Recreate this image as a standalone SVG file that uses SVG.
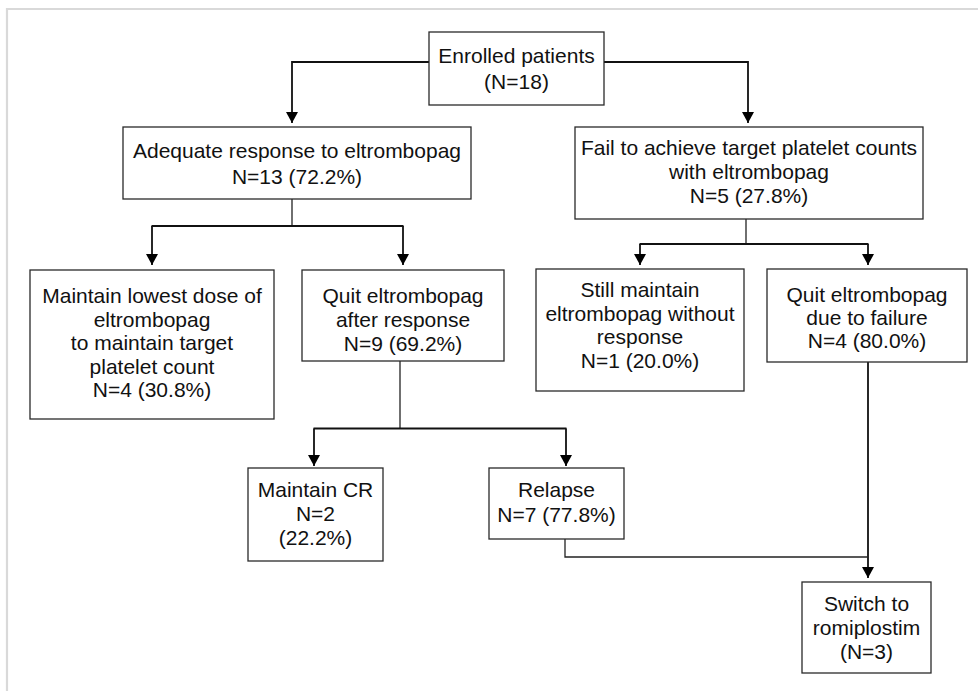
<svg xmlns="http://www.w3.org/2000/svg" width="978" height="691" viewBox="0 0 978 691">
<style>
.box{fill:#fff;stroke:#2a2a2a;stroke-width:1.3}
.t{font-family:"Liberation Sans",Arial,sans-serif;font-size:21px;fill:#111;text-anchor:middle}
.c{fill:none;stroke:#111;stroke-width:1.8}
.c1{fill:none;stroke:#222;stroke-width:1.3}
.frame{stroke:#d9d9d9;stroke-width:2.2;fill:none}
</style>
<defs>
<marker id="ah" markerUnits="userSpaceOnUse" markerWidth="12" markerHeight="12" refX="11" refY="6" orient="auto">
<path d="M0,0 L11,6 L0,12 z" fill="#000"/>
</marker>
</defs>
<rect width="978" height="691" fill="#fff"/>
<path class="frame" d="M7,691 V9 H978"/>
<g id="connectors">
<polyline class="c" points="429,62 292,62 292,123" marker-end="url(#ah)"/>
<polyline class="c" points="604,62 748,62 748,123" marker-end="url(#ah)"/>
<polyline class="c1" points="292,199 292,226"/>
<polyline class="c" points="152,226 152,265" marker-end="url(#ah)"/>
<polyline class="c" points="151.5,226 403.5,226"/>
<polyline class="c" points="403,226 403,265" marker-end="url(#ah)"/>
<polyline class="c1" points="746,219 746,244"/>
<polyline class="c" points="639.5,244 868.5,244"/>
<polyline class="c" points="640,244 640,265" marker-end="url(#ah)"/>
<polyline class="c" points="868,244 868,265" marker-end="url(#ah)"/>
<polyline class="c1" points="400,361 400,428.5"/>
<polyline class="c" points="313.5,428.5 566.5,428.5"/>
<polyline class="c" points="314,428.5 314,466" marker-end="url(#ah)"/>
<polyline class="c" points="566,428.5 566,466" marker-end="url(#ah)"/>
<polyline class="c" points="868,362 868,578" marker-end="url(#ah)"/>
<polyline class="c1" points="565,539 565,557 868,557"/>
</g>
<g id="enrolled">
<rect class="box" x="429" y="32" width="175" height="73"/>
<text class="t" x="516.5" y="63">Enrolled patients</text>
<text class="t" x="516.5" y="89">(N=18)</text>
</g>
<g id="adequate">
<rect class="box" x="123" y="127" width="348" height="72"/>
<text class="t" x="297" y="158">Adequate response to eltrombopag</text>
<text class="t" x="297" y="184">N=13 (72.2%)</text>
</g>
<g id="fail">
<rect class="box" x="575" y="127" width="348" height="92"/>
<text class="t" x="749" y="155">Fail to achieve target platelet counts</text>
<text class="t" x="749" y="179">with eltrombopag</text>
<text class="t" x="749" y="203">N=5 (27.8%)</text>
</g>
<g id="maintain-lowest">
<rect class="box" x="30" y="270" width="244" height="149"/>
<text class="t" x="152" y="303">Maintain lowest dose of</text>
<text class="t" x="152" y="327">eltrombopag</text>
<text class="t" x="152" y="350">to maintain target</text>
<text class="t" x="152" y="374">platelet count</text>
<text class="t" x="152" y="397">N=4 (30.8%)</text>
</g>
<g id="quit-response">
<rect class="box" x="302" y="270" width="202" height="91"/>
<text class="t" x="403" y="303">Quit eltrombopag</text>
<text class="t" x="403" y="327">after response</text>
<text class="t" x="403" y="351">N=9 (69.2%)</text>
</g>
<g id="still-maintain">
<rect class="box" x="536" y="269" width="208" height="122"/>
<text class="t" x="640" y="297">Still maintain</text>
<text class="t" x="640" y="321">eltrombopag without</text>
<text class="t" x="640" y="344">response</text>
<text class="t" x="640" y="368">N=1 (20.0%)</text>
</g>
<g id="quit-failure">
<rect class="box" x="767" y="269" width="200" height="93"/>
<text class="t" x="867" y="302">Quit eltrombopag</text>
<text class="t" x="867" y="325">due to failure</text>
<text class="t" x="867" y="348">N=4 (80.0%)</text>
</g>
<g id="maintain-cr">
<rect class="box" x="248" y="468" width="135" height="93"/>
<text class="t" x="315.5" y="497">Maintain CR</text>
<text class="t" x="315.5" y="521">N=2</text>
<text class="t" x="315.5" y="545">(22.2%)</text>
</g>
<g id="relapse">
<rect class="box" x="489" y="468" width="135" height="71"/>
<text class="t" x="556.5" y="497">Relapse</text>
<text class="t" x="556.5" y="522">N=7 (77.8%)</text>
</g>
<g id="switch">
<rect class="box" x="802" y="582" width="129" height="91"/>
<text class="t" x="866.5" y="611">Switch to</text>
<text class="t" x="866.5" y="635">romiplostim</text>
<text class="t" x="866.5" y="659">(N=3)</text>
</g>
</svg>
